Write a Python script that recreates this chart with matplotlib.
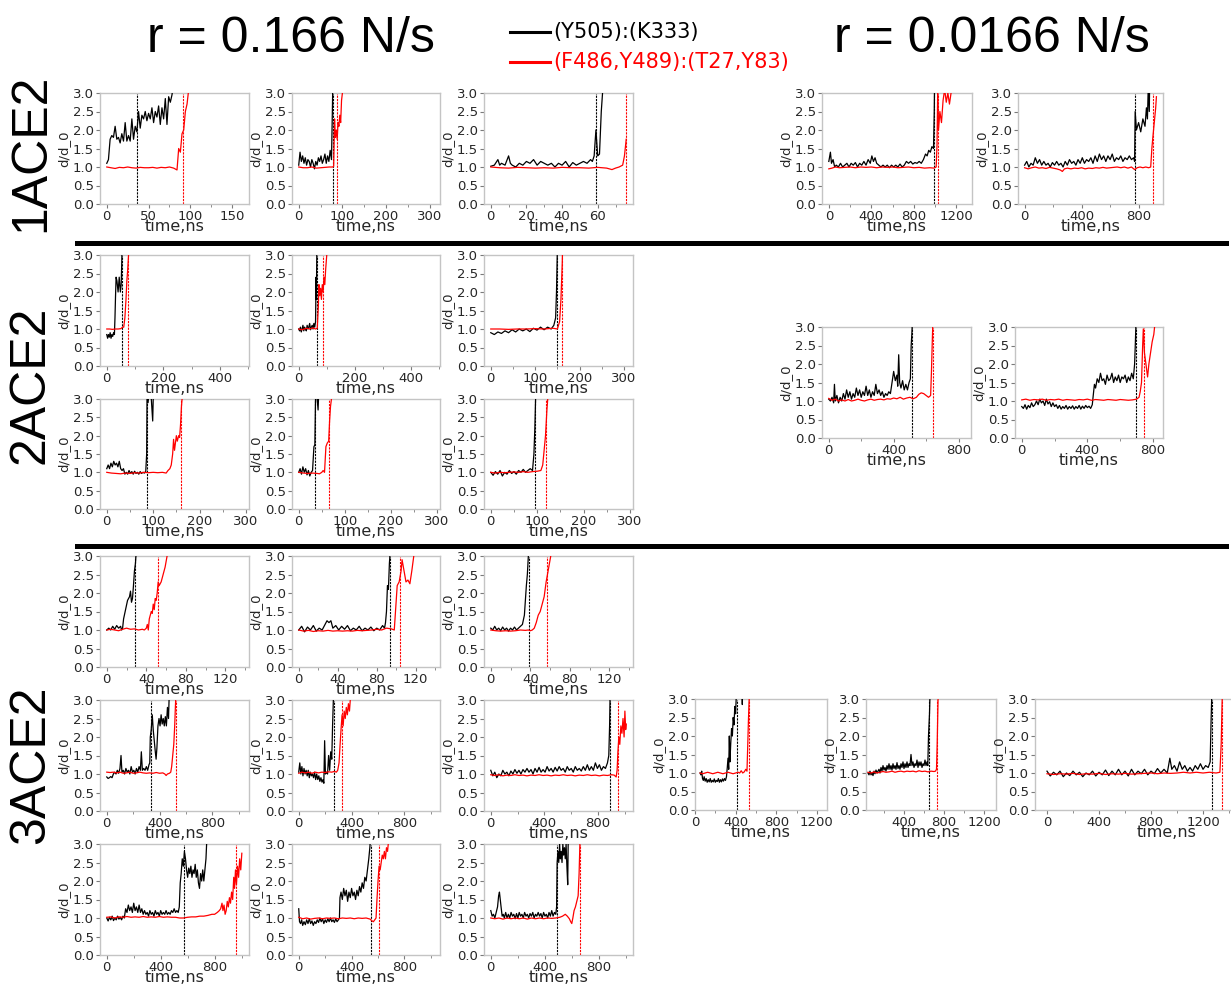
import matplotlib
matplotlib.use('Agg')
import matplotlib.pyplot as plt
from matplotlib.lines import Line2D
from matplotlib.ticker import AutoMinorLocator

W, H = 1231, 985
plt.rcParams['font.family'] = ['DejaVu Sans']

# ---------------- data: (time ns, d/d_0) ----------------
a1_black = [(0,1.1),(2,1.2),(4,1.75),(6,1.85),(8,1.8),(10,2.1),(12,1.75),(14,1.8),(16,1.65),(18,1.9),(20,1.7),(22,2.2),(24,1.7),(26,1.85),(28,1.7),(30,2.3),(32,1.75),(34,2.1),(36,1.95),(38,2.5),(40,2.05),(42,2.4),(44,2.3),(46,2.5),(48,2.25),(50,2.45),(52,2.3),(54,2.6),(56,2.2),(58,2.5),(60,2.35),(62,2.65),(64,2.15),(66,2.6),(68,2.3),(70,2.85),(72,2.15),(74,2.9),(76,2.75),(78,2.95),(80,3.3),(82,4.0)]
a1_red = [(0,1.0),(5,0.98),(10,0.96),(15,0.99),(20,0.98),(25,1.0),(30,0.98),(35,0.97),(40,0.99),(45,0.98),(50,0.98),(55,0.99),(60,0.97),(65,0.99),(70,0.98),(75,1.0),(80,0.97),(84,0.92),(86,1.5),(88,1.4),(90,1.9),(92,2.0),(94,2.5),(96,2.7),(98,3.1),(100,4.0)]
a2_black = [(0,1.05),(3,1.4),(6,1.15),(9,1.3),(12,1.1),(15,1.25),(18,1.05),(21,1.2),(24,1.15),(27,1.0),(30,1.2),(33,1.1),(36,0.95),(39,1.15),(42,1.05),(45,1.25),(48,1.15),(51,1.3),(54,1.1),(57,1.2),(60,1.35),(63,1.1),(66,1.3),(69,1.15),(72,1.45),(75,1.2),(77,2.5),(79,4.0)]
a2_red = [(0,1.0),(10,0.98),(20,0.98),(30,1.0),(40,0.97),(50,0.98),(60,0.99),(70,1.0),(78,1.0),(80,1.02),(82,2.3),(84,1.8),(86,2.0),(88,1.75),(90,2.2),(92,2.1),(94,2.4),(96,2.2),(98,2.8),(100,3.0),(102,4.0)]
a3_black = [(0,1.02),(2,1.05),(4,1.2),(5,1.05),(6,1.1),(8,1.05),(10,1.3),(11,1.1),(12,1.05),(14,1.0),(16,1.1),(18,1.05),(20,1.15),(22,1.1),(24,1.2),(26,1.05),(28,1.15),(30,1.1),(32,1.05),(34,1.1),(36,1.0),(38,1.1),(40,1.05),(42,1.15),(44,1.0),(46,1.12),(48,1.05),(50,1.1),(52,1.15),(54,1.1),(56,1.2),(57,1.15),(58,1.3),(59,2.0),(60,1.3),(61,1.35),(62,2.5),(63,3.2),(64,4.0)]
a3_red = [(0,1.0),(5,0.98),(10,0.97),(15,0.99),(20,0.98),(25,0.97),(30,0.98),(35,0.97),(40,0.99),(45,0.98),(50,0.98),(55,0.97),(60,0.99),(65,0.97),(68,0.93),(70,0.97),(72,1.0),(74,1.05),(75,1.3),(76,1.75)]
a4_black = [(0,1.15),(15,1.4),(25,1.1),(40,1.2),(55,1.0),(70,1.05),(90,1.0),(110,1.1),(130,1.0),(150,1.05),(170,1.1),(190,1.0),(210,1.1),(230,1.05),(250,1.12),(270,1.0),(290,1.1),(310,1.05),(330,1.15),(350,1.05),(370,1.2),(390,1.1),(405,1.3),(420,1.15),(435,1.25),(450,1.1),(470,1.05),(490,1.0),(510,1.05),(530,1.0),(550,1.05),(570,0.98),(590,1.05),(610,1.0),(630,1.05),(650,1.0),(670,1.08),(690,1.0),(710,1.05),(730,1.15),(750,1.1),(770,1.15),(790,1.08),(810,1.12),(830,1.1),(850,1.15),(870,1.1),(890,1.2),(910,1.35),(925,1.3),(940,1.45),(955,1.4),(970,1.55),(985,1.5),(992,2.5),(998,4.0)]
a4_red = [(0,0.95),(30,0.97),(60,1.0),(100,0.98),(150,0.99),(200,1.0),(250,0.98),(300,1.0),(350,0.99),(400,1.0),(450,0.98),(500,1.0),(550,0.99),(600,1.0),(650,0.98),(700,0.99),(750,1.0),(800,0.98),(850,0.99),(900,0.97),(950,0.98),(990,0.97),(1010,1.0),(1018,1.6),(1025,3.2),(1032,2.0),(1045,2.5),(1060,2.2),(1075,2.8),(1090,3.1),(1105,2.75),(1120,3.0),(1135,2.7),(1150,3.0),(1160,3.3)]
a5_black = [(0,1.05),(15,1.15),(30,1.0),(45,1.1),(60,1.05),(75,1.25),(90,1.1),(105,1.2),(120,1.05),(135,1.15),(150,1.05),(165,1.1),(180,1.0),(195,1.12),(210,1.05),(225,1.15),(240,1.05),(255,1.1),(270,1.0),(285,1.15),(300,1.05),(315,1.2),(330,1.1),(345,1.15),(360,1.05),(375,1.2),(390,1.1),(405,1.25),(420,1.1),(435,1.2),(450,1.15),(465,1.25),(480,1.1),(495,1.3),(510,1.15),(525,1.35),(540,1.2),(555,1.3),(570,1.15),(585,1.3),(600,1.2),(615,1.35),(630,1.15),(645,1.25),(660,1.2),(675,1.3),(690,1.15),(705,1.25),(720,1.2),(735,1.3),(750,1.2),(765,1.25),(772,1.15),(776,2.5),(785,2.0),(800,2.2),(815,1.95),(830,2.3),(845,2.1),(855,2.6),(862,2.3),(868,3.2),(875,2.5),(880,4.0)]
a5_red = [(0,0.98),(25,0.95),(50,0.98),(75,1.0),(100,0.97),(125,0.98),(150,0.96),(175,0.99),(200,0.97),(225,0.95),(250,0.92),(265,0.88),(280,0.95),(300,0.97),(325,0.95),(350,0.97),(375,0.96),(400,0.98),(425,0.95),(450,0.97),(475,0.96),(500,0.98),(525,0.97),(550,0.99),(575,0.97),(600,0.98),(625,0.99),(650,1.0),(675,0.98),(700,1.0),(725,0.97),(750,1.0),(772,0.93),(790,0.98),(810,1.0),(830,0.98),(850,1.0),(870,0.98),(885,1.0),(893,1.5),(900,1.8),(910,2.2),(920,2.6),(925,2.9)]

b1_black = [(0,0.85),(3,0.75),(6,0.85),(9,0.78),(12,0.9),(15,0.75),(18,0.85),(21,0.8),(24,0.9),(27,0.85),(29,1.3),(31,1.9),(33,2.4),(36,2.3),(40,2.0),(44,2.4),(48,2.0),(51,2.2),(53,2.8),(54,3.2),(56,4.0)]
b1_red = [(0,1.0),(10,1.0),(20,0.99),(30,1.0),(40,1.0),(50,1.01),(56,1.05),(60,1.05),(64,1.3),(68,1.8),(71,2.3),(74,2.6),(77,3.0),(80,4.0)]
b2_black = [(0,1.0),(3,0.95),(6,1.05),(9,0.92),(12,1.0),(15,1.1),(18,0.95),(21,1.05),(24,1.0),(27,0.95),(30,1.1),(33,1.0),(36,1.05),(39,1.15),(42,0.98),(45,1.05),(48,1.1),(51,1.0),(54,1.15),(57,1.05),(60,1.2),(62,2.4),(63,1.8),(65,3.5),(67,4.0)]
b2_red = [(0,1.0),(10,0.98),(20,1.0),(30,1.02),(40,1.0),(50,1.03),(60,1.0),(66,1.02),(70,1.6),(72,2.2),(75,1.9),(78,2.1),(81,1.8),(84,2.2),(87,2.0),(90,2.4),(93,2.2),(96,2.6),(100,3.0),(104,4.0)]
b3_black = [(0,0.9),(8,0.85),(16,0.92),(24,0.88),(32,0.95),(40,0.9),(48,0.98),(56,0.92),(64,1.0),(72,0.95),(80,1.0),(88,0.93),(96,1.02),(104,0.97),(112,1.05),(120,0.98),(128,1.05),(136,1.0),(142,1.1),(146,1.3),(148,2.0),(150,3.2),(152,4.0)]
b3_red = [(0,1.0),(20,1.0),(40,0.99),(60,1.0),(80,1.0),(100,1.01),(120,1.0),(140,1.02),(150,1.0),(155,1.2),(158,1.8),(161,2.8),(163,4.0)]
b4_black = [(0,1.1),(3,1.2),(6,1.1),(9,1.25),(12,1.15),(15,1.3),(18,1.2),(21,1.25),(24,1.15),(27,1.3),(30,1.1),(33,1.05),(36,1.1),(39,0.95),(42,1.0),(45,0.95),(48,1.05),(51,0.97),(54,1.02),(57,0.95),(60,1.03),(63,0.97),(66,1.0),(69,0.95),(72,1.02),(75,0.97),(78,1.0),(81,0.98),(84,1.02),(86,1.5),(87,3.5),(89,2.9),(92,3.3),(96,3.0),(99,2.4),(101,3.5),(104,4.0)]
b4_red = [(0,1.0),(10,0.98),(20,0.97),(30,0.96),(40,0.98),(50,0.97),(60,0.99),(70,0.98),(80,1.0),(90,0.99),(100,1.0),(110,0.99),(120,1.0),(128,0.98),(132,1.05),(136,1.1),(139,1.2),(142,1.5),(144,1.9),(146,1.6),(148,1.8),(150,2.0),(152,1.85),(155,2.0),(157,1.95),(159,2.3),(161,2.8),(163,3.1),(165,4.0)]
b5_black = [(0,1.0),(3,1.1),(6,0.95),(9,1.15),(12,1.0),(15,1.1),(18,0.93),(21,1.05),(24,0.9),(27,1.0),(30,1.05),(33,1.7),(35,1.75),(37,3.5),(40,3.0),(42,2.7),(44,3.4),(46,4.0)]
b5_red = [(0,1.0),(10,0.98),(20,0.97),(30,0.98),(40,0.97),(45,0.96),(50,1.0),(53,1.05),(56,1.0),(59,1.7),(62,1.8),(65,1.85),(67,2.4),(69,2.8),(71,3.0),(73,4.0)]
b6_black = [(0,1.0),(5,0.92),(10,1.02),(15,0.95),(20,1.05),(25,0.9),(30,1.0),(35,0.95),(40,1.05),(45,0.97),(50,1.02),(55,0.95),(60,1.05),(65,1.0),(70,1.08),(75,1.0),(80,1.05),(85,1.1),(90,1.05),(93,1.5),(95,2.2),(97,3.2),(99,4.0)]
b6_red = [(0,1.0),(10,0.98),(20,1.0),(30,0.99),(40,1.0),(50,1.01),(60,1.0),(70,1.02),(80,1.0),(90,1.02),(100,1.03),(108,1.05),(112,1.2),(115,1.6),(118,2.0),(121,2.7),(124,3.2),(126,4.0)]
b7_black = [(0,1.05),(10,1.0),(20,1.1),(30,0.95),(35,1.45),(40,1.0),(50,1.15),(60,0.95),(70,1.1),(80,1.0),(90,1.2),(100,1.05),(110,1.3),(120,1.1),(130,1.25),(140,1.05),(150,1.2),(160,1.1),(170,1.35),(180,1.15),(190,1.3),(200,1.1),(210,1.25),(220,1.15),(230,1.4),(240,1.15),(250,1.3),(260,1.1),(270,1.25),(280,1.15),(290,1.45),(300,1.2),(310,1.3),(320,1.15),(330,1.25),(340,1.1),(350,1.2),(360,1.15),(370,1.25),(380,1.2),(390,1.5),(400,1.8),(410,1.55),(420,1.7),(425,1.4),(431,2.25),(437,1.5),(445,1.35),(455,1.55),(465,1.3),(475,1.45),(485,1.3),(495,1.5),(503,1.6),(508,2.5),(512,2.8),(516,3.2),(520,4.0)]
b7_red = [(0,1.07),(20,1.02),(40,1.05),(60,1.0),(80,1.03),(100,1.0),(120,1.04),(140,1.0),(160,1.02),(180,1.05),(200,1.02),(220,1.0),(240,1.03),(260,1.05),(280,1.02),(300,1.04),(320,1.05),(340,1.03),(360,1.06),(380,1.05),(400,1.08),(420,1.06),(440,1.1),(460,1.05),(480,1.08),(500,1.1),(520,1.06),(540,1.1),(555,1.18),(570,1.22),(585,1.2),(600,1.15),(615,1.1),(628,1.15),(633,1.8),(638,2.6),(642,3.2),(645,4.0)]
b8_black = [(0,0.85),(10,0.8),(20,0.9),(30,0.78),(40,0.88),(50,0.82),(60,0.95),(70,0.85),(80,0.9),(90,1.0),(100,0.9),(110,1.05),(120,0.95),(130,1.0),(140,0.88),(150,1.05),(160,0.92),(170,0.98),(180,0.85),(190,0.95),(200,0.85),(210,0.9),(220,0.8),(230,0.88),(240,0.78),(250,0.85),(260,0.8),(270,0.88),(280,0.78),(290,0.85),(300,0.8),(310,0.87),(320,0.78),(330,0.85),(340,0.8),(350,0.88),(360,0.78),(370,0.86),(380,0.8),(390,0.88),(400,0.82),(410,0.86),(420,0.8),(430,0.9),(437,1.2),(443,1.45),(450,1.35),(460,1.6),(470,1.5),(480,1.75),(490,1.55),(500,1.6),(510,1.45),(520,1.7),(530,1.55),(540,1.6),(550,1.75),(560,1.5),(570,1.65),(580,1.55),(590,1.7),(600,1.5),(610,1.65),(620,1.6),(630,1.7),(640,1.5),(650,1.65),(660,1.55),(670,1.75),(680,1.6),(688,2.0),(692,2.5),(697,3.2),(700,4.0)]
b8_red = [(0,1.03),(25,1.05),(50,1.02),(75,1.04),(100,1.03),(125,1.05),(150,1.02),(175,1.04),(200,1.03),(225,1.05),(250,1.02),(275,1.04),(300,1.03),(325,1.02),(350,1.04),(375,1.03),(400,1.05),(425,1.02),(450,1.04),(475,1.03),(500,1.02),(525,1.04),(550,1.03),(575,1.02),(600,1.04),(625,1.03),(650,1.02),(675,1.03),(700,1.05),(715,1.1),(722,1.25),(730,1.5),(737,2.5),(741,2.95),(748,2.3),(757,2.0),(767,1.65),(775,2.0),(785,2.3),(795,2.6),(805,2.8),(812,3.1),(818,4.0)]

c1_black = [(0,1.0),(2,1.05),(4,1.0),(6,1.1),(8,1.02),(10,1.12),(12,1.05),(14,1.1),(15,1.0),(16,1.05),(17,1.3),(19,1.55),(21,1.8),(23,1.9),(24,2.05),(25,1.75),(26,1.85),(27,2.2),(28,2.6),(29,2.8),(30,3.2),(31,4.0)]
c1_red = [(0,1.0),(4,1.02),(8,1.0),(12,0.98),(16,1.02),(20,1.05),(24,1.02),(28,1.03),(32,1.0),(36,1.02),(38,1.0),(40,1.05),(41,1.15),(42,1.0),(43,1.3),(45,1.5),(46,1.45),(47,1.7),(48,1.55),(49,1.85),(50,1.8),(51,2.0),(52,2.3),(53,2.2),(55,2.3),(57,2.5),(59,2.7),(61,3.0),(63,4.0)]
c2_black = [(0,1.0),(3,1.1),(6,0.95),(9,1.08),(12,1.0),(15,1.12),(18,0.97),(21,1.05),(24,1.0),(27,1.15),(29,1.25),(31,1.2),(33,1.25),(35,1.05),(38,1.12),(41,1.0),(44,1.1),(47,1.02),(50,1.12),(53,0.98),(56,1.05),(59,1.0),(62,1.1),(65,0.98),(68,1.05),(71,1.0),(74,1.08),(77,0.98),(80,1.05),(83,1.0),(86,1.12),(88,1.05),(89,1.2),(90,1.5),(91,2.2),(92,2.1),(93,2.8),(94,3.2),(95,4.0)]
c2_red = [(0,1.0),(5,0.97),(10,0.99),(15,0.96),(20,0.98),(25,0.97),(30,0.99),(35,0.97),(40,0.98),(45,0.97),(50,0.98),(55,0.97),(60,0.99),(65,0.98),(70,0.99),(75,1.0),(80,1.02),(85,1.0),(90,1.05),(95,1.03),(98,1.0),(100,1.8),(101,2.2),(103,2.3),(105,2.6),(106,2.9),(108,2.6),(110,2.3),(112,2.35),(114,2.25),(116,2.6),(118,3.0),(120,4.0)]
c3_black = [(0,1.05),(2,1.0),(4,1.1),(6,1.0),(8,1.05),(10,0.98),(12,1.08),(14,1.0),(16,1.05),(18,0.97),(20,1.05),(22,1.0),(24,1.08),(26,1.0),(28,1.05),(30,1.1),(32,1.15),(34,1.4),(35,1.8),(36,2.2),(37,2.5),(38,3.0),(39,4.0)]
c3_red = [(0,1.0),(5,0.98),(10,0.97),(15,0.98),(20,0.97),(25,0.98),(30,1.0),(35,0.99),(38,1.0),(40,0.98),(42,1.0),(44,1.05),(46,1.2),(48,1.4),(50,1.5),(52,1.7),(54,1.9),(56,2.3),(58,2.6),(60,2.9),(62,3.2),(64,4.0)]
c4_black = [(0,0.92),(10,0.88),(20,0.9),(30,0.93),(40,0.9),(50,1.0),(60,1.05),(70,1.0),(80,1.1),(90,1.02),(100,1.15),(108,1.5),(115,1.05),(125,1.1),(135,1.0),(145,1.15),(155,1.05),(165,1.1),(175,1.0),(185,1.2),(195,1.05),(205,1.1),(215,1.0),(225,1.15),(235,1.05),(245,1.2),(255,1.1),(262,1.6),(270,1.1),(280,1.15),(290,1.1),(300,1.2),(310,1.1),(320,1.25),(326,1.3),(330,2.0),(337,2.2),(345,2.6),(352,2.2),(360,1.9),(368,1.6),(374,1.4),(380,1.7),(388,2.3),(396,2.5),(404,2.3),(412,2.6),(420,2.35),(428,2.5),(436,2.3),(444,2.55),(452,2.3),(460,2.8),(468,2.5),(474,3.2),(480,4.0)]
c4_red = [(0,1.05),(25,1.04),(50,1.05),(75,1.03),(100,1.05),(125,1.02),(150,1.03),(175,1.05),(200,1.02),(225,1.03),(250,1.05),(275,1.03),(300,1.02),(325,1.03),(350,1.02),(375,1.04),(400,1.02),(425,1.03),(440,1.0),(450,0.96),(460,1.0),(475,1.02),(485,1.05),(492,1.2),(500,1.5),(508,1.8),(515,2.3),(520,2.8),(525,3.2),(530,4.0)]
c5_black = [(0,1.05),(8,1.3),(16,1.0),(24,1.2),(32,0.95),(40,1.15),(48,1.0),(56,1.1),(64,0.95),(72,1.1),(80,0.9),(88,1.05),(96,0.95),(104,1.0),(112,0.9),(120,1.05),(128,0.85),(136,1.0),(144,0.85),(152,0.95),(160,0.8),(168,0.9),(176,0.78),(184,0.85),(190,0.75),(196,1.9),(202,1.0),(210,1.05),(218,1.0),(226,1.5),(234,1.1),(242,1.6),(250,1.4),(256,2.3),(262,3.0),(266,4.0)]
c5_red = [(0,1.02),(25,1.05),(50,1.03),(75,1.05),(100,1.02),(125,1.05),(150,1.03),(175,1.05),(200,1.04),(225,1.06),(250,1.05),(270,1.07),(285,1.05),(295,1.1),(305,1.3),(313,1.8),(320,2.2),(328,2.6),(336,2.3),(344,2.7),(352,2.5),(360,2.8),(368,2.6),(376,2.9),(384,2.7),(392,3.1),(400,4.0)]
c6_black = [(0,1.1),(15,0.95),(30,1.05),(45,0.9),(60,1.0),(75,0.95),(90,1.1),(105,1.0),(120,1.05),(135,0.95),(150,1.08),(165,1.0),(180,1.12),(195,1.02),(210,1.1),(225,1.0),(240,1.12),(255,1.05),(270,1.15),(285,1.05),(300,1.12),(315,1.0),(330,1.15),(345,1.05),(360,1.18),(375,1.05),(390,1.12),(405,1.05),(420,1.2),(435,1.08),(450,1.15),(465,1.05),(480,1.18),(495,1.08),(510,1.2),(525,1.1),(540,1.15),(555,1.05),(570,1.2),(585,1.1),(600,1.15),(615,1.05),(630,1.2),(645,1.1),(660,1.15),(675,1.08),(690,1.2),(705,1.1),(720,1.25),(735,1.1),(750,1.2),(765,1.1),(780,1.3),(795,1.15),(810,1.25),(825,1.1),(840,1.2),(855,1.15),(870,1.3),(880,1.5),(886,2.3),(890,3.2),(894,4.0)]
c6_red = [(0,0.98),(30,0.96),(60,0.98),(90,0.95),(120,0.97),(150,0.96),(180,0.98),(210,0.96),(240,0.97),(270,0.95),(300,0.97),(330,0.96),(360,0.98),(390,0.96),(420,0.97),(450,0.95),(480,0.97),(510,0.96),(540,0.98),(570,0.96),(600,0.97),(630,0.95),(660,0.97),(690,0.96),(720,0.98),(750,0.96),(780,0.97),(810,0.95),(840,0.97),(870,0.96),(900,0.98),(920,0.97),(935,0.92),(942,1.1),(948,1.6),(955,2.0),(962,1.8),(970,2.3),(978,2.1),(986,2.5),(994,2.0),(1000,2.7),(1006,2.2),(1010,2.35)]
c7_black = [(0,1.0),(10,0.92),(20,1.02),(30,0.95),(40,1.05),(50,0.93),(60,1.0),(70,0.95),(80,1.05),(90,0.97),(100,1.02),(110,0.95),(120,1.05),(130,1.0),(140,1.25),(150,1.15),(160,1.35),(170,1.2),(180,1.3),(190,1.15),(200,1.4),(210,1.2),(220,1.3),(230,1.15),(240,1.35),(250,1.15),(260,1.25),(270,1.1),(280,1.2),(290,1.1),(300,1.15),(310,1.05),(320,1.2),(330,1.1),(340,1.15),(350,1.05),(360,1.2),(370,1.1),(380,1.15),(390,1.05),(400,1.2),(410,1.1),(420,1.15),(430,1.1),(440,1.2),(450,1.1),(460,1.15),(470,1.1),(480,1.2),(490,1.15),(500,1.25),(510,1.15),(520,1.2),(530,1.15),(538,1.3),(545,1.95),(552,2.2),(560,2.6),(568,2.4),(576,2.8),(584,2.6),(592,2.3),(600,2.1),(608,2.35),(616,2.2),(624,2.4),(632,2.1),(640,2.3),(648,2.2),(656,2.45),(664,2.1),(672,2.3),(680,1.95),(688,1.8),(696,2.2),(704,2.0),(712,2.3),(720,2.0),(728,2.3),(736,2.6),(742,3.1),(748,4.0)]
c7_red = [(0,1.02),(30,1.03),(60,1.0),(90,1.03),(120,1.02),(150,1.04),(180,1.02),(210,1.03),(240,1.02),(270,1.04),(300,1.02),(330,1.03),(360,1.02),(390,1.04),(420,1.02),(450,1.03),(480,1.02),(510,1.02),(540,1.0),(570,1.0),(600,1.02),(630,1.03),(660,1.03),(690,1.05),(720,1.05),(750,1.07),(780,1.1),(800,1.1),(820,1.15),(835,1.2),(845,1.25),(855,1.4),(862,1.2),(870,1.35),(878,1.1),(886,1.2),(894,1.45),(902,1.3),(910,1.55),(918,1.4),(926,1.7),(934,1.5),(942,2.1),(948,1.8),(955,2.3),(962,1.9),(970,2.4),(978,2.1),(986,2.6),(994,2.3),(1002,2.75)]
c8_black = [(0,1.25),(6,0.9),(14,0.85),(22,0.95),(30,0.8),(40,0.9),(50,0.82),(60,0.95),(70,0.85),(80,0.98),(90,0.85),(100,0.92),(110,0.8),(120,0.9),(130,0.85),(140,0.95),(150,0.88),(160,1.0),(170,0.9),(180,0.98),(190,0.85),(200,0.95),(210,0.88),(220,0.98),(230,0.9),(240,1.0),(250,0.9),(260,0.95),(270,0.88),(280,0.98),(290,0.9),(300,0.95),(308,1.0),(312,1.55),(320,1.7),(330,1.5),(340,1.8),(350,1.6),(360,1.75),(370,1.45),(380,1.7),(390,1.55),(400,1.8),(410,1.6),(420,1.7),(430,1.5),(440,1.75),(450,1.6),(460,1.85),(470,1.7),(480,1.95),(490,1.8),(500,2.1),(510,2.0),(520,2.3),(530,2.6),(538,2.9),(544,3.2),(548,4.0)]
c8_red = [(0,1.02),(30,0.98),(60,1.0),(90,0.97),(120,0.99),(150,1.0),(180,0.98),(210,1.0),(240,0.99),(270,1.0),(300,0.98),(330,1.0),(360,0.99),(390,1.0),(420,0.98),(450,1.0),(480,0.99),(510,1.0),(540,0.97),(555,0.92),(565,0.9),(575,0.95),(585,1.0),(592,1.5),(600,2.0),(608,2.4),(616,2.3),(624,2.5),(632,2.7),(640,2.6),(648,2.8),(656,2.6),(664,2.9),(672,2.8),(680,3.1),(690,4.0)]
c9_black = [(0,1.2),(10,1.05),(20,1.1),(30,1.0),(40,1.15),(50,1.3),(58,1.6),(64,1.7),(70,1.5),(76,1.3),(84,1.05),(92,1.1),(100,1.0),(110,1.15),(120,1.0),(130,1.1),(140,1.0),(150,1.15),(160,1.05),(170,1.1),(180,0.98),(190,1.12),(200,1.0),(210,1.15),(220,1.05),(230,1.1),(240,1.0),(250,1.15),(260,1.05),(270,1.1),(280,1.0),(290,1.12),(300,1.05),(310,1.15),(320,1.0),(330,1.1),(340,1.05),(350,1.15),(360,1.05),(370,1.12),(380,1.0),(390,1.15),(400,1.05),(410,1.1),(420,1.0),(430,1.15),(440,1.05),(450,1.2),(460,1.05),(470,1.15),(480,1.1),(486,1.3),(490,2.5),(496,2.8),(502,2.5),(508,3.0),(514,2.6),(520,2.8),(526,2.5),(532,3.0),(538,2.7),(544,2.9),(550,2.6),(556,3.0),(562,2.4),(568,1.9),(572,3.2),(576,4.0)]
c9_red = [(0,1.0),(30,0.98),(60,1.0),(90,0.97),(120,1.0),(150,0.98),(180,1.0),(210,0.98),(240,1.0),(270,0.97),(300,1.0),(330,0.98),(360,1.0),(390,0.98),(420,1.0),(450,0.99),(480,1.0),(510,1.02),(530,1.05),(550,1.1),(565,1.05),(580,0.98),(590,0.9),(598,0.85),(606,1.0),(615,1.2),(625,1.3),(635,1.45),(645,1.6),(652,2.2),(658,3.0),(664,4.0)]
c10_black = [(50,1.0),(58,0.95),(66,1.05),(74,0.85),(82,0.8),(90,0.9),(100,0.78),(110,0.85),(120,0.75),(130,0.82),(140,0.76),(150,0.85),(160,0.75),(170,0.8),(180,0.76),(190,0.84),(200,0.75),(210,0.8),(220,0.77),(230,0.85),(240,0.75),(250,0.82),(260,0.76),(270,0.84),(280,0.78),(290,0.85),(300,0.8),(310,0.9),(318,1.15),(325,1.4),(332,1.1),(338,2.0),(344,1.3),(352,1.8),(360,2.2),(368,2.0),(376,2.5),(384,2.3),(392,2.8),(400,2.6),(408,3.2),(414,4.0),(460,4.0),(466,2.85),(472,4.0)]
c10_red = [(50,1.0),(75,0.98),(100,1.0),(125,1.02),(150,1.0),(175,0.98),(200,1.0),(225,1.02),(250,1.0),(275,0.98),(300,1.0),(325,1.02),(350,1.0),(375,0.98),(400,1.0),(425,1.02),(440,1.0),(455,1.06),(470,1.0),(485,1.03),(500,1.1),(512,1.05),(520,1.8),(526,2.4),(532,2.9),(537,3.2),(540,4.0)]
c11_black = [(40,1.0),(50,0.95),(60,1.05),(70,0.95),(80,1.0),(90,0.93),(100,1.05),(110,0.98),(120,1.08),(130,1.0),(140,1.05),(150,1.1),(160,1.0),(170,1.15),(180,1.05),(190,1.2),(200,1.08),(210,1.15),(220,1.05),(230,1.2),(240,1.1),(250,1.25),(260,1.1),(270,1.2),(280,1.08),(290,1.25),(300,1.12),(310,1.2),(320,1.1),(330,1.28),(340,1.12),(350,1.2),(360,1.1),(370,1.25),(380,1.15),(390,1.3),(400,1.12),(410,1.25),(420,1.15),(430,1.3),(440,1.15),(450,1.25),(460,1.2),(470,1.5),(480,1.2),(490,1.3),(500,1.15),(510,1.25),(520,1.2),(530,1.35),(540,1.15),(550,1.3),(560,1.2),(570,1.3),(580,1.15),(590,1.25),(600,1.2),(610,1.35),(620,1.2),(630,1.3),(638,1.2),(645,2.0),(650,2.3),(655,2.6),(660,3.1),(665,4.0)]
c11_red = [(40,1.02),(70,1.0),(100,1.03),(130,1.0),(160,1.02),(190,1.04),(220,1.02),(250,1.03),(280,1.05),(310,1.02),(340,1.04),(370,1.05),(400,1.03),(430,1.05),(460,1.04),(490,1.05),(520,1.03),(550,1.06),(580,1.04),(610,1.05),(640,1.03),(670,1.05),(700,1.04),(715,1.05),(725,1.1),(732,1.8),(737,2.5),(742,3.2),(746,4.0)]
c12_black = [(0,1.05),(25,0.92),(50,1.02),(75,0.95),(100,1.05),(125,0.9),(150,1.0),(175,0.93),(200,1.05),(225,0.95),(250,1.02),(275,0.9),(300,1.0),(325,0.95),(350,1.05),(375,0.92),(400,1.02),(425,0.95),(450,1.08),(475,0.93),(500,1.05),(525,0.95),(550,1.1),(575,0.95),(600,1.05),(625,0.92),(650,1.1),(675,0.95),(700,1.05),(725,0.98),(750,1.1),(775,0.95),(800,1.05),(825,0.98),(850,1.12),(875,1.0),(900,1.1),(925,1.0),(945,1.4),(960,1.1),(980,1.2),(1000,1.05),(1020,1.3),(1040,1.1),(1060,1.2),(1080,1.05),(1100,1.15),(1120,1.05),(1140,1.2),(1160,1.1),(1180,1.25),(1200,1.1),(1220,1.2),(1240,1.15),(1255,1.3),(1262,2.4),(1268,3.2),(1275,4.0)]
c12_red = [(0,0.98),(50,0.96),(100,0.98),(150,0.97),(200,0.99),(250,0.96),(300,0.98),(350,0.97),(400,0.99),(450,0.96),(500,0.98),(550,0.97),(600,0.99),(650,0.97),(700,0.98),(750,0.99),(800,1.0),(850,0.98),(900,1.0),(950,0.99),(1000,1.0),(1050,1.02),(1100,1.0),(1150,1.02),(1200,1.0),(1250,1.02),(1300,1.0),(1330,1.02),(1340,1.8),(1346,2.8),(1350,3.3),(1355,4.0)]

# rupture times (vertical dashed lines): black, red
rupture = {
    'a1': (36, 91), 'a2': (78, 87), 'a3': (59, 76), 'a4': (988, 1025), 'a5': (772, 900),
    'b1': (54, 74), 'b2': (65, 86), 'b3': (149, 160), 'b4': (86, 159), 'b5': (36, 66), 'b6': (95, 118),
    'b7': (513, 640), 'b8': (695, 746),
    'c1': (29, 52), 'c2': (94, 104), 'c3': (38.6, 57), 'c4': (333, 523), 'c5': (265, 325), 'c6': (888, 948),
    'c7': (572, 958), 'c8': (544, 609), 'c9': (491, 660), 'c10': (411, 532), 'c11': (650, 730), 'c12': (1270, 1346),
}
# simulation length (ns)
sim_len = {'a1': 162, 'a2': 308, 'a3': 76, 'a4': 1283, 'a5': 925,
           'b1': 479, 'b2': 480, 'b3': 305, 'b4': 292, 'b5': 292, 'b6': 292, 'b7': 835, 'b8': 820,
           'c1': 137, 'c2': 138, 'c3': 137, 'c4': 1027, 'c5': 1018, 'c6': 1010,
           'c7': 1005, 'c8': 1018, 'c9': 1000, 'c10': 1240, 'c11': 1240, 'c12': 1846}
xticks = {'a1': [0, 50, 100, 150], 'a2': [0, 100, 200, 300], 'a3': [0, 20, 40, 60],
          'a4': [0, 400, 800, 1200], 'a5': [0, 400, 800],
          'b1': [0, 200, 400], 'b2': [0, 200, 400], 'b3': [0, 100, 200, 300], 'b4': [0, 100, 200, 300],
          'b5': [0, 100, 200, 300], 'b6': [0, 100, 200, 300], 'b7': [0, 400, 800], 'b8': [0, 400, 800],
          'c1': [0, 40, 80, 120], 'c2': [0, 40, 80, 120], 'c3': [0, 40, 80, 120],
          'c4': [0, 400, 800], 'c5': [0, 400, 800], 'c6': [0, 400, 800],
          'c7': [0, 400, 800], 'c8': [0, 400, 800], 'c9': [0, 400, 800],
          'c10': [0, 400, 800, 1200], 'c11': [400, 800, 1200], 'c12': [0, 400, 800, 1200]}
traces = {'a1': (a1_black, a1_red), 'a2': (a2_black, a2_red), 'a3': (a3_black, a3_red),
          'a4': (a4_black, a4_red), 'a5': (a5_black, a5_red),
          'b1': (b1_black, b1_red), 'b2': (b2_black, b2_red), 'b3': (b3_black, b3_red),
          'b4': (b4_black, b4_red), 'b5': (b5_black, b5_red), 'b6': (b6_black, b6_red),
          'b7': (b7_black, b7_red), 'b8': (b8_black, b8_red),
          'c1': (c1_black, c1_red), 'c2': (c2_black, c2_red), 'c3': (c3_black, c3_red),
          'c4': (c4_black, c4_red), 'c5': (c5_black, c5_red), 'c6': (c6_black, c6_red),
          'c7': (c7_black, c7_red), 'c8': (c8_black, c8_red), 'c9': (c9_black, c9_red),
          'c10': (c10_black, c10_red), 'c11': (c11_black, c11_red), 'c12': (c12_black, c12_red)}
legend_labels = ['(Y505):(K333)', '(F486,Y489):(T27,Y83)']
titles = ['r = 0.166 N/s', 'r = 0.0166 N/s']
row_labels = ['1ACE2', '2ACE2', '3ACE2']

# ---------------- layout (pixel boxes: left, top, right, bottom) ----------------
boxes = {
    'a1': (100, 93, 249, 204), 'a2': (292, 93, 440, 204), 'a3': (484, 93, 633, 204),
    'a4': (822, 93, 972, 204), 'a5': (1018, 93, 1163, 204),
    'b1': (100, 255, 249, 366), 'b2': (292, 255, 440, 366), 'b3': (484, 255, 633, 366),
    'b4': (100, 399, 249, 509), 'b5': (292, 399, 440, 509), 'b6': (484, 399, 633, 509),
    'b7': (822, 327, 971, 438), 'b8': (1015, 327, 1163, 438),
    'c1': (100, 556, 249, 667), 'c2': (292, 556, 440, 667), 'c3': (484, 556, 633, 667),
    'c4': (100, 700, 249, 811), 'c5': (292, 700, 440, 811), 'c6': (484, 700, 633, 811),
    'c7': (100, 844, 249, 955), 'c8': (292, 844, 440, 955), 'c9': (484, 844, 633, 955),
    'c10': (695, 699, 827, 810), 'c11': (866, 699, 996, 810), 'c12': (1035, 699, 1299, 810),
}
custom_xlim = {'c10': (0, 1300), 'c11': (20, 1320)}

fig = plt.figure(figsize=(W / 100, H / 100), dpi=100)
fig.patch.set_facecolor('white')

def px_axes(box):
    l, t, r, b = box
    return fig.add_axes([l / W, 1 - b / H, (r - l) / W, (b - t) / H])

spine_col = '#c4c4c4'
for key, box in boxes.items():
    ax = px_axes(box)
    blk, red = traces[key]
    ax.plot([p[0] for p in blk], [p[1] for p in blk], color='black', lw=0.9, zorder=3)
    ax.plot([p[0] for p in red], [p[1] for p in red], color='#ff0000', lw=0.9, zorder=3)
    tb, tr = rupture[key]
    ax.axvline(tb, color='black', lw=0.8, ls=(0, (2.0, 1.0)), zorder=2)
    ax.axvline(tr, color='#ff0000', lw=0.8, ls=(0, (2.0, 1.0)), zorder=2)
    T = sim_len[key]
    ax.set_xlim(custom_xlim.get(key, (-0.05 * T, 1.05 * T)))
    ax.set_ylim(0, 3.0)
    ax.set_yticks([0, 0.5, 1.0, 1.5, 2.0, 2.5, 3.0])
    ax.set_xticks(xticks[key])
    ax.xaxis.set_minor_locator(AutoMinorLocator(2))
    for s in ax.spines.values():
        s.set_color(spine_col)
        s.set_linewidth(1.0)
    ax.tick_params(axis='both', which='major', labelsize=9.5, colors='#7a7a7a',
                   labelcolor='#262626', length=3, width=0.8, pad=1.5)
    ax.tick_params(axis='x', which='minor', length=2, width=0.6, colors='#7a7a7a')
    ax.set_xlabel('time,ns', fontsize=11.5, color='#262626', labelpad=-3)
    ax.set_ylabel('d/d_0', fontsize=9.5, color='#262626', labelpad=2)

# titles and legend
fig.text(291 / W, 1 - 52 / H, titles[0], fontsize=36, family='Liberation Sans',
         ha='center', va='baseline')
fig.text(992 / W, 1 - 52 / H, titles[1], fontsize=36, family='Liberation Sans',
         ha='center', va='baseline')
for i, (lab, col) in enumerate(zip(legend_labels, ['black', '#ff0000'])):
    y = 1 - (32 + 30 * i) / H
    fig.add_artist(Line2D([510 / W, 550 / W], [y, y], color=col, lw=2.2))
    fig.text(553 / W, y, lab, fontsize=15, color=col, ha='left', va='center')

# row labels
for lab, yc in zip(row_labels, [153, 385, 765]):
    fig.text(31 / W, 1 - yc / H, lab, fontsize=36, family='Liberation Sans',
             rotation=90, ha='center', va='center')

# separators
for yy in [243, 546]:
    fig.add_artist(Line2D([77 / W, 1226 / W], [1 - yy / H, 1 - yy / H], color='black', lw=3.6))

fig.savefig('out.png', dpi=100)
